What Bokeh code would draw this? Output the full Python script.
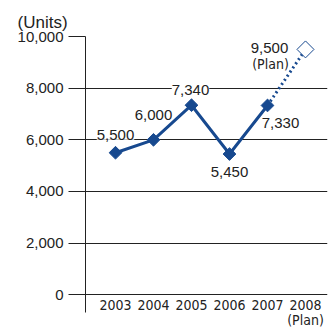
import numpy as np
from bokeh.plotting import figure
from bokeh.models import (Range1d, FixedTicker, NumeralTickFormatter, ColumnDataSource,
                          LabelSet)
from bokeh.core.properties import value
from bokeh.embed import file_html
from bokeh.resources import INLINE

# ---- data ----
years = ["2003", "2004", "2005", "2006", "2007", "2008"]
units = [5500, 6000, 7340, 5450, 7330, 9500]
plan_flags = [False, False, False, False, False, True]
y_ticks = [0, 2000, 4000, 6000, 8000, 10000]
unit_label = "(Units)"
plan_text = "(Plan)"

# ---- styling ----
BLUE = "#17498f"
DARK = "#222222"
FONT = "Liberation Sans"
NARROW = "'Liberation Sans Narrow', 'DejaVu Sans Condensed', 'Liberation Sans', sans-serif"
label_dx = [0, 0, -1, 0, 13, -36]
label_dy = [18, 25, 15, -18, -18, 1]

xs = list(range(len(years)))
actual_x = [x for x, f in zip(xs, plan_flags) if not f]
actual_y = [u for u, f in zip(units, plan_flags) if not f]
plan_x = [x for x, f in zip(xs, plan_flags) if f]
plan_y = [u for u, f in zip(units, plan_flags) if f]

p = figure(width=330, height=330, output_backend="svg", toolbar_location=None,
           x_range=Range1d(-0.7895, 5.579), y_range=Range1d(-685, 10000),
           min_border_left=85, min_border_right=3, min_border_top=36, min_border_bottom=18)
p.outline_line_color = None
p.xgrid.visible = False
p.ygrid.grid_line_color = DARK
p.ygrid.grid_line_width = 1

# title used as the unit caption
p.title.text = unit_label
p.title.align = "left"
p.title.offset = -68
p.title.text_font = FONT
p.title.text_font_size = "17px"
p.title.text_font_style = "normal"
p.title.text_color = DARK
p.title.standoff = 10

p.yaxis.ticker = FixedTicker(ticks=y_ticks)
p.yaxis.formatter = NumeralTickFormatter(format="0,0")
p.yaxis.major_tick_out = 17
p.yaxis.major_tick_in = 0
p.yaxis.minor_tick_out = 0
p.yaxis.minor_tick_in = 0
p.yaxis.major_tick_line_color = DARK
p.yaxis.axis_line_color = DARK
p.yaxis.major_label_standoff = 5
p.yaxis.major_label_text_font = FONT
p.yaxis.major_label_text_font_size = "15px"
p.yaxis.major_label_text_color = DARK

# x axis below the frame carries only the "(Plan)" note of the plan year
p.xaxis.ticker = FixedTicker(ticks=xs)
p.xaxis.major_label_overrides = {x: (plan_text if f else "") for x, f in zip(xs, plan_flags)}
p.xaxis.axis_line_color = None
p.xaxis.major_tick_line_color = None
p.xaxis.minor_tick_line_color = None
p.xaxis.major_tick_out = 0
p.xaxis.major_tick_in = 0
p.xaxis.minor_tick_out = 0
p.xaxis.minor_tick_in = 0
p.xaxis.major_label_standoff = -1
p.xaxis.major_label_text_font = NARROW
p.xaxis.major_label_text_font_size = "14px"
p.xaxis.major_label_text_color = DARK

# lines
p.line(actual_x, actual_y, line_color=BLUE, line_width=3)
p.line([actual_x[-1], plan_x[0]], [actual_y[-1], plan_y[0]], line_color=BLUE,
       line_width=3, line_dash="2 3")

# markers
p.scatter(actual_x, actual_y, marker="square", angle=np.pi / 4, size=9,
          fill_color=BLUE, line_color=BLUE)
p.scatter(plan_x, plan_y, marker="square", angle=np.pi / 4, size=12,
          fill_color="white", line_color=BLUE, line_width=1)

# value labels
src = ColumnDataSource(dict(x=xs, y=units, t=[f"{u:,}" for u in units],
                            dx=label_dx, dy=label_dy))
p.add_layout(LabelSet(x="x", y="y", text="t", x_offset="dx", y_offset="dy", source=src,
                      text_align="center", text_baseline="middle", text_font=value(FONT),
                      text_font_size="15px", text_color=DARK,
                      background_fill_color="white"))
p.text(plan_x, plan_y, text=[plan_text] * len(plan_x), x_offset=-35, y_offset=15,
       text_align="center", text_baseline="middle", text_font=value(NARROW),
       text_font_size="14px", text_color=DARK)

# category labels
p.text(xs, [-390] * len(xs), text=years, text_align="center", text_baseline="middle",
       text_font=value(NARROW), text_font_size="14px", text_color=DARK)

open("out.html", "w").write(file_html(p, INLINE))
